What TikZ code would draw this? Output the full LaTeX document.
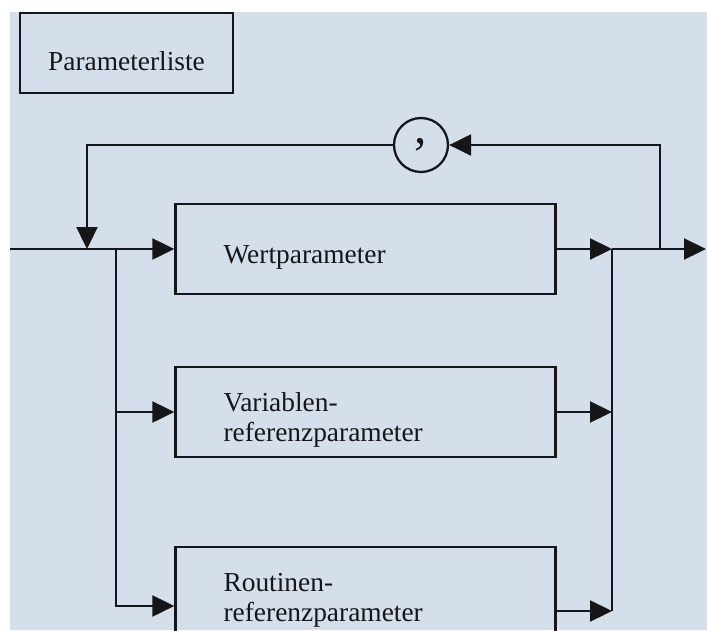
\documentclass[tikz,border=0pt]{standalone}
\usepackage{fontspec}
\setmainfont{Liberation Serif}
\usetikzlibrary{arrows.meta}
\definecolor{bgblue}{RGB}{213,222,235}
\definecolor{ink}{RGB}{22,22,24}
\tikzset{
  pbox/.style={draw, line width=1.4pt, minimum width=7.6cm, minimum height=1.8cm,
    text width=5.68cm, inner xsep=0.96cm, align=left,
    execute at begin node={\rule{0pt}{19.5pt}}},
  arr/.style={-{Triangle[length=0.44cm,width=0.42cm]}},
}
\begin{document}
\begin{tikzpicture}[x=0.02cm, y=-0.02cm, line width=1.3pt, draw=ink, text=ink,
    font=\fontsize{15.6}{17}\selectfont]
    \useasboundingbox (0,0) rectangle (707,630);
    \fill[bgblue] (10,12) rectangle (707,630);
    \clip (0,0) rectangle (707,630);

    \node[draw, line width=1.4pt, minimum width=4.26cm, minimum height=1.6cm,
      execute at begin node={\rule{0pt}{19.5pt}}] (title) at (126.5,53) {Parameterliste};

    \node[pbox] (wert) at (365.5,249) {Wertparameter};
    \node[pbox] (var) at (365.5,412) {Variablen-\\ referenzparameter};
    \node[pbox] (rout) at (365.5,592) {Routinen-\\ referenzparameter};
    \node[circle, draw, minimum size=1.08cm, inner sep=0pt,
      font=\fontsize{28}{28}\selectfont] (comma) at (421,145) {\raisebox{-2pt}{,}};

    \coordinate (start) at (10,249);
    \coordinate (join) at (87,249);
    \coordinate (fork) at (116,249);
    \coordinate (merge) at (612,249);
    \coordinate (split) at (660,249);
    \coordinate (end) at (706,249);
    \coordinate (rin) at ([yshift=-0.28cm]rout.west);
    \coordinate (rout2) at ([yshift=-0.38cm]rout.east);

    \draw[arr] (start) -- (wert);
    \draw[arr] (fork) |- (var);
    \draw[arr] (fork) |- (rin);
    \draw[arr] (wert) -- (merge);
    \draw[arr] (var) -- (var -| merge);
    \draw[arr] (rout2) -- (rout2 -| merge);
    \draw (merge) -- (rout2 -| merge);
    \draw[arr] (merge) -- (end);
    \draw[arr] (split) |- (comma);
    \draw[arr] (comma) -| (join);
\end{tikzpicture}
\end{document}
